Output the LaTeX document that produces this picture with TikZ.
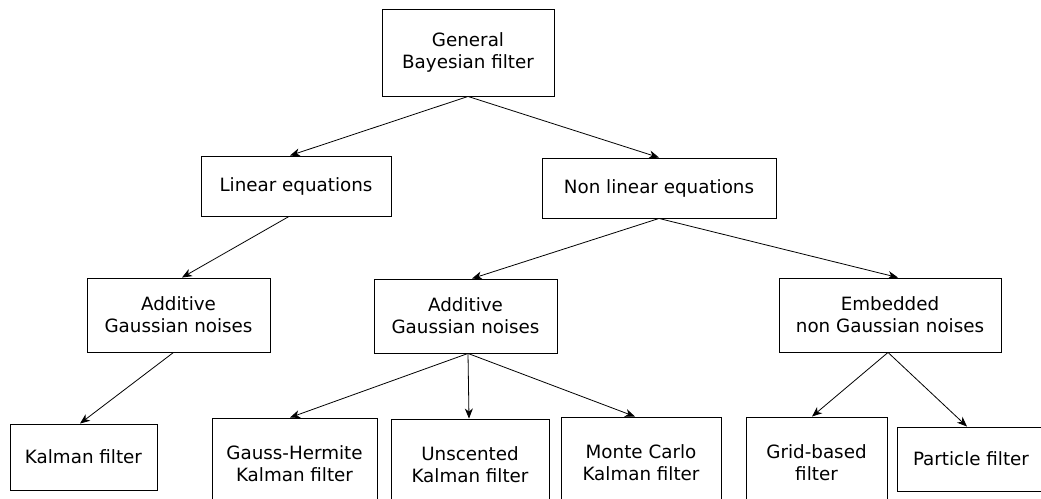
\documentclass[tikz,border=0pt]{standalone}
\usepackage{fontspec}
\setmainfont{DejaVu Sans}
\usetikzlibrary{arrows.meta}
\begin{document}
\begin{tikzpicture}[x=1pt,y=-1pt,
  box/.style={draw=black,line width=0.9pt,inner sep=0pt,align=center,font=\fontsize{18.3}{22}\selectfont},
  arr/.style={line width=0.8pt,-{Stealth[length=10pt,width=8pt,inset=3pt]}}]
\useasboundingbox (0,0) rectangle (1041,498);
\node[box,minimum width=172pt,minimum height=87pt] (gen) at (468,52.5) {General\\Bayesian filter};
\node[box,minimum width=190pt,minimum height=60pt] (lin) at (296,186) {Linear equations};
\node[box,minimum width=234pt,minimum height=60pt] (nl) at (659,188) {Non linear equations};
\node[box,minimum width=183pt,minimum height=74pt] (add1) at (178.5,315) {Additive\\Gaussian noises};
\node[box,minimum width=183pt,minimum height=74pt] (add2) at (465.5,316) {Additive\\Gaussian noises};
\node[box,minimum width=222pt,minimum height=74pt] (emb) at (890,315) {Embedded\\non Gaussian noises};
\node[box,minimum width=147pt,minimum height=66pt] (kal) at (83.5,457) {Kalman filter};
\node[box,minimum width=165pt,minimum height=92pt] (gh) at (294.5,464) {Gauss-Hermite\\Kalman filter};
\node[box,minimum width=158pt,minimum height=92pt] (ukf) at (470,465) {Unscented\\Kalman filter};
\node[box,minimum width=160pt,minimum height=92pt] (mc) at (641,463) {Monte Carlo\\Kalman filter};
\node[box,minimum width=141pt,minimum height=92pt] (grid) at (816.5,463) {Grid-based\\filter};
\node[box,minimum width=148pt,minimum height=64pt] (pf) at (971,459) {Particle filter};
\draw[arr] (gen.south) -- ([xshift=-6pt]lin.north);
\draw[arr] (gen.south) -- (nl.north);
\draw[arr] ([xshift=-7pt]lin.south) -- ([xshift=3.5pt]add1.north);
\draw[arr] ([xshift=-5pt]add1.south) -- ([xshift=-3.5pt]kal.north);
\draw[arr] (nl.south) -- ([xshift=6.5pt]add2.north);
\draw[arr] (nl.south) -- ([xshift=8pt]emb.north);
\draw[arr] ([xshift=2.5pt]add2.south) -- ([xshift=-4.5pt]gh.north);
\draw[arr] ([xshift=2.5pt]add2.south) -- ([xshift=-1pt]ukf.north);
\draw[arr] ([xshift=2.5pt]add2.south) -- ([xshift=-6pt]mc.north);
\draw[arr] ([xshift=-2pt]emb.south) -- ([xshift=-4.5pt]grid.north);
\draw[arr] ([xshift=-2pt]emb.south) -- ([xshift=-4pt]pf.north);
\end{tikzpicture}
\end{document}
